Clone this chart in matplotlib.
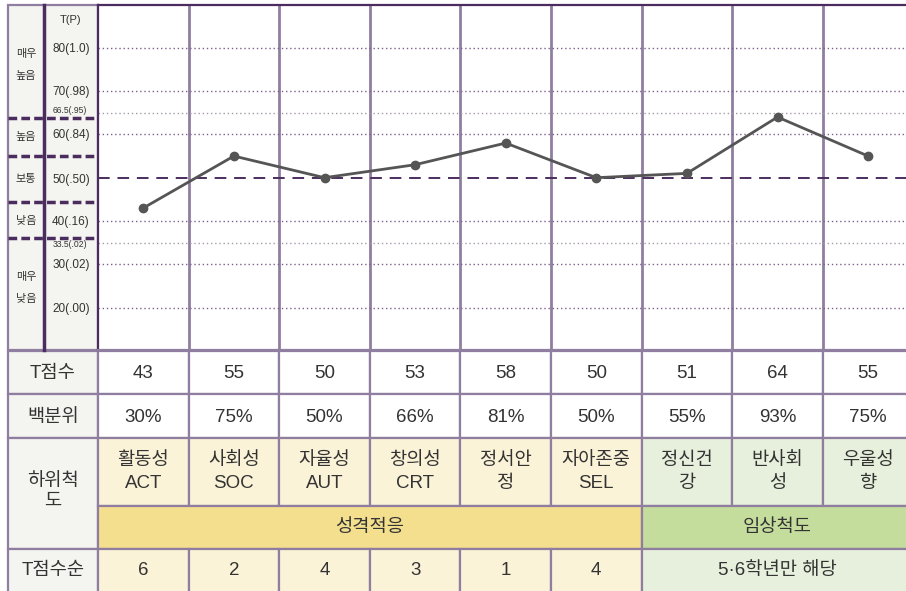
import numpy as np
import matplotlib.pyplot as plt
from matplotlib.patches import Rectangle

plt.rcParams['font.family'] = ['Liberation Sans', 'Noto Sans CJK KR', 'DejaVu Sans']

# data
subscales = ['활동성\nACT', '사회성\nSOC', '자율성\nAUT', '창의성\nCRT', '정서안\n정',
             '자아존중\nSEL', '정신건\n강', '반사회\n성', '우울성\n향']
t_scores = [43, 55, 50, 53, 58, 50, 51, 64, 55]
percentiles = ['30%', '75%', '50%', '66%', '81%', '50%', '55%', '93%', '75%']
t_rank = ['6', '2', '4', '3', '1', '4']
groups = ['성격적응', '임상척도']
group_sizes = [6, 3]
rank_note = '5·6학년만 해당'

grid_pos = [80, 70, 65, 60, 40, 35, 30, 20]
grid_labels = ['80(1.0)', '70(.98)', '66.5(.95)', '60(.84)', '40(.16)', '33.5(.02)', '30(.02)', '20(.00)']
level_names = ['매우\n높음', '높음', '보통', '낮음', '매우\n낮음']

# colors
border = '#8f7ea0'
dark = '#4b2c5e'
txt = '#333333'
grey_bg = '#f4f4f0'
cream = '#fbf3d8'
gold = '#f3df8d'
lgreen = '#e7f0dc'
green = '#c4dd9d'

W, H = 906, 591
fig = plt.figure(figsize=(W / 100, H / 100), dpi=100)
bg = fig.add_axes([0, 0, 1, 1])
bg.set_xlim(0, W)
bg.set_ylim(H, 0)
bg.axis('off')

x0 = 98        # chart left edge (px)
cw = 90.6      # column width (px)
top, bot = 5, 350
y50, ppu = 177.7, 4.33

def rect(x, y, w, h, fc):
    bg.add_patch(Rectangle((x, y), w, h, facecolor=fc, edgecolor=border, lw=1.6, zorder=1))

# left label panel
rect(8, top, x0 - 8, bot - top, grey_bg)
bg.plot([44, 44], [top, bot], color=dark, lw=2.5, zorder=3)
seps = [118.3, 156, 202.3, 237.7]
for s in seps:
    bg.plot([8, x0], [s, s], color=dark, lw=2.5, ls=(0, (2.5, 1.2)), zorder=3)
level_y = [65, 137, 179, 221, 288]
for name, yy in zip(level_names, level_y):
    bg.text(26, yy, name, ha='center', va='center', fontsize=8, color=txt, linespacing=2.6)
bg.text(71, 20, 'T(P)', ha='center', va='center', fontsize=8, color=txt)
bg.text(71, 180, '50(.50)', ha='center', va='center', fontsize=8.5, color=txt)
for p, lab in zip(grid_pos, grid_labels):
    yy = y50 - (p - 50) * ppu
    if '.5' in lab:
        yy = yy - 2 if p > 50 else yy + 2
        bg.text(70, yy, lab, ha='center', va='center', fontsize=6.2, color=txt)
    else:
        bg.text(71, yy + 1, lab, ha='center', va='center', fontsize=8.5, color=txt)

# table below chart
rows = [351, 394.3, 438.3, 505.7, 549, 600]
rect(8, rows[0], x0 - 8, rows[1] - rows[0], grey_bg)
rect(8, rows[1], x0 - 8, rows[2] - rows[1], grey_bg)
rect(8, rows[2], x0 - 8, rows[4] - rows[2], grey_bg)
rect(8, rows[4], x0 - 8, rows[5] - rows[4], grey_bg)
fs = 13.5
bg.text(53, (rows[0] + rows[1]) / 2 + 1, 'T점수', ha='center', va='center', fontsize=fs, color=txt)
bg.text(53, (rows[1] + rows[2]) / 2 + 1, '백분위', ha='center', va='center', fontsize=fs, color=txt)
bg.text(53, (rows[2] + rows[4]) / 2 - 2, '하위척\n도', ha='center', va='center', fontsize=fs, color=txt,
        linespacing=1.2)
bg.text(53, (rows[4] + rows[5]) / 2 - 4, 'T점수순', ha='center', va='center', fontsize=fs, color=txt)

for i in range(len(subscales)):
    cx = x0 + cw * i
    rect(cx, rows[0], cw, rows[1] - rows[0], 'white')
    rect(cx, rows[1], cw, rows[2] - rows[1], 'white')
    rect(cx, rows[2], cw, rows[3] - rows[2], cream if i < group_sizes[0] else lgreen)
    mid = cx + cw / 2
    bg.text(mid, (rows[0] + rows[1]) / 2 + 1, str(t_scores[i]), ha='center', va='center', fontsize=fs, color=txt)
    bg.text(mid, (rows[1] + rows[2]) / 2 + 1, percentiles[i], ha='center', va='center', fontsize=fs, color=txt)
    bg.text(mid, (rows[2] + rows[3]) / 2, subscales[i], ha='center', va='center', fontsize=fs, color=txt,
            linespacing=1.4)

start = 0
for g, n, fc in zip(groups, group_sizes, [gold, green]):
    gx = x0 + cw * start
    rect(gx, rows[3], cw * n, rows[4] - rows[3], fc)
    bg.text(gx + cw * n / 2, (rows[3] + rows[4]) / 2, g, ha='center', va='center', fontsize=fs, color=txt)
    start += n
for i, r in enumerate(t_rank):
    cx = x0 + cw * i
    rect(cx, rows[4], cw, rows[5] - rows[4], cream)
    bg.text(cx + cw / 2, (rows[4] + rows[5]) / 2 - 4, r, ha='center', va='center', fontsize=fs, color=txt)
gx = x0 + cw * group_sizes[0]
rect(gx, rows[4], cw * group_sizes[1], rows[5] - rows[4], lgreen)
bg.text(gx + cw * group_sizes[1] / 2, (rows[4] + rows[5]) / 2 - 4, rank_note, ha='center', va='center',
        fontsize=fs, color=txt)

# chart area
ax = fig.add_axes([x0 / W, 1 - bot / H, (W - x0) / W, (bot - top) / H])
ax.set_xlim(0, (W - x0) / cw)
ax.set_ylim(50 - (bot - y50) / ppu, 50 + (y50 - top) / ppu)
ax.set_xticks([])
ax.set_yticks([])
for side in ['left', 'top']:
    ax.spines[side].set_color(dark)
    ax.spines[side].set_linewidth(1.6)
ax.spines['bottom'].set_color(border)
ax.spines['bottom'].set_linewidth(1.6)
ax.spines['right'].set_visible(False)

for i in range(1, len(subscales)):
    ax.axvline(i, color=border, lw=2, zorder=1)
for p, lab in zip(grid_pos, grid_labels):
    c = '#a59aa8' if '.5' in lab else '#7d5f8e'
    ax.axhline(p, color=c, lw=1, ls=(0, (1, 2)), zorder=1)
ax.axhline(50, color=dark, lw=1.4, ls=(0, (6, 4)), zorder=1)

xs = np.arange(len(t_scores)) + 0.5
ax.plot(xs, t_scores, color='#555555', lw=2, marker='o', markersize=6, zorder=3)

fig.savefig('out.png', dpi=100)
